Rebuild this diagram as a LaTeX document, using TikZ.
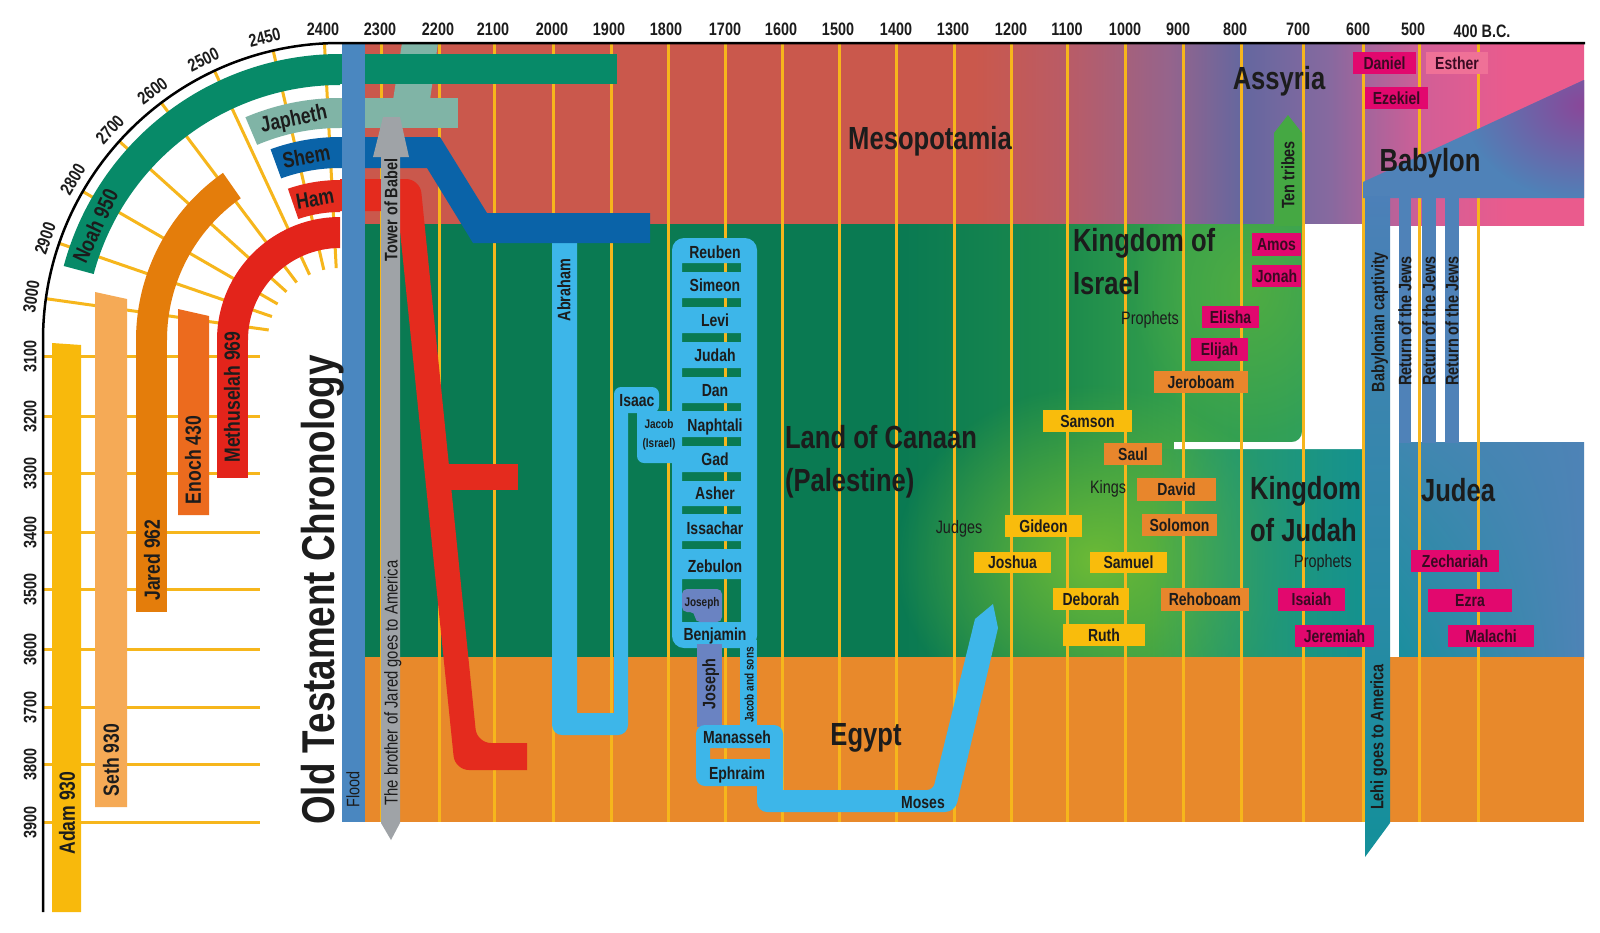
\documentclass[tikz,border=0pt]{standalone}
\usepackage{fontspec}
\setmainfont{Liberation Sans}[FakeStretch=0.8]
\usetikzlibrary{fadings,shadings}
\definecolor{meso1}{HTML}{CA584C}
\definecolor{meso2}{HTML}{B85C68}
\definecolor{meso3}{HTML}{95648C}
\definecolor{assy}{HTML}{64679F}
\definecolor{meso4}{HTML}{86699F}
\definecolor{pink1}{HTML}{D35E96}
\definecolor{pink2}{HTML}{EA5B8D}
\definecolor{gdark}{HTML}{0A7A52}
\definecolor{gmid}{HTML}{1B8A4C}
\definecolor{glight}{HTML}{35A04C}
\definecolor{glight2}{HTML}{2FA060}
\definecolor{lime}{HTML}{6CBA36}
\definecolor{lime2}{HTML}{4FAC42}
\definecolor{tealj}{HTML}{15928F}
\definecolor{egypt}{HTML}{E8892B}
\definecolor{flood}{HTML}{4A87C0}
\definecolor{noah}{HTML}{078A68}
\definecolor{japh}{HTML}{80B4A6}
\definecolor{shem}{HTML}{0A63A8}
\definecolor{ham}{HTML}{E42B1E}
\definecolor{meth}{HTML}{E3241B}
\definecolor{enoch}{HTML}{EC6B1E}
\definecolor{jared}{HTML}{E47D0B}
\definecolor{seth}{HTML}{F5AA56}
\definecolor{adam}{HTML}{F8B90C}
\definecolor{yl}{HTML}{F6B61C}
\definecolor{lblue}{HTML}{3DB6E9}
\definecolor{joseph}{HTML}{6A83C2}
\definecolor{grayar}{HTML}{9FA3A7}
\definecolor{babblue}{HTML}{4F82B8}
\definecolor{purp}{HTML}{8A4799}
\definecolor{judea1}{HTML}{4E83B6}
\definecolor{judeaA}{HTML}{3F87B0}
\definecolor{judeaT}{HTML}{1A8F9E}
\definecolor{lehi1}{HTML}{4C80B8}
\definecolor{lehi2}{HTML}{13909A}
\definecolor{tentr}{HTML}{45A843}
\definecolor{ybox}{HTML}{F9BC0C}
\definecolor{obox}{HTML}{E8862C}
\definecolor{mbox}{HTML}{E2086E}
\definecolor{ebox}{HTML}{EF7197}
\definecolor{txt}{HTML}{1C1C1C}
\definecolor{mtxt}{HTML}{3A0A22}
\pgfdeclarehorizontalshading{topband}{100bp}{color(0bp)=(meso1); color(25bp)=(meso1); color(50bp)=(meso1); color(54bp)=(meso2); color(58bp)=(meso3); color(61bp)=(assy); color(64.5bp)=(meso4); color(68.5bp)=(pink1); color(72bp)=(pink2); color(100bp)=(pink2)}
\pgfdeclarehorizontalshading{greenband}{100bp}{color(0bp)=(gdark); color(25bp)=(gdark); color(52bp)=(gdark); color(60bp)=(gmid); color(66bp)=(glight); color(75bp)=(glight2); color(100bp)=(glight2)}
\tikzfading[name=radfade, inner color=transparent!0, outer color=transparent!100]
\tikzfading[name=fadeleft, left color=transparent!100, right color=transparent!0]
\newcommand{\annsec}[5]{%
  \fill[#1, shift={(340,340)}] (-#2:#5) arc[start angle=-#2, end angle=-#3, radius=#5] -- (-#3:#4) arc[start angle=-#3, end angle=-#2, radius=#4] -- cycle;}
\begin{document}
\begin{tikzpicture}[x=1pt,y=-1pt,
 base/.style={inner sep=0pt, outer sep=0pt, text=txt},
 ax/.style={base, font=\fontsize{18}{21}\selectfont\bfseries, text height=12.9pt, text depth=0pt},
 big/.style={base, font=\fontsize{32}{36}\selectfont\bfseries, text height=22.9pt, text depth=0pt},
 nm/.style={base, font=\fontsize{17.5}{20}\selectfont\bfseries, text height=12.5pt, text depth=0pt},
 sm/.style={base, font=\fontsize{12.5}{15}\selectfont\bfseries, text height=9pt, text depth=0pt},
 rg/.style={base, font=\fontsize{18}{21}\selectfont, text height=12.9pt, text depth=0pt},
 arcl/.style={base, font=\fontsize{22}{26}\selectfont\bfseries, text height=15.8pt, text depth=0pt},
 ttl/.style={base, font=\fontsize{46}{50}\selectfont\bfseries, text height=33pt, text depth=0pt},
 vt/.style={base, font=\fontsize{18}{21}\selectfont\bfseries, text height=12.9pt, text depth=0pt},
 vr/.style={base, font=\fontsize{18.5}{21}\selectfont, text height=13.2pt, text depth=0pt},
 yb/.style={nm, fill=ybox},
 ob/.style={nm, fill=obox},
 mb/.style={nm, fill=mbox, text=mtxt},
 yline/.style={draw=yl, line width=3pt}]
\useasboundingbox (0,0) rectangle (1600,932);
\fill[white] (0,0) rectangle (1600,932);
% ---------- background bands
\shade[shading=topband] (365,43) rectangle (1584,225);
\shade[shading=greenband] (365,224) rectangle (1362,658);
\begin{scope}
 \clip (365,224) rectangle (1362,658);
 \fill[lime, path fading=radfade] (1095,560) ellipse [x radius=200, y radius=175];
 \fill[lime2, path fading=radfade] (1250,290) ellipse [x radius=120, y radius=150];
 \fill[tealj, path fading=fadeleft] (1150,449) rectangle (1362,658);
\end{scope}
\fill[white] (1363,224) -- (1302,224) [rounded corners=10pt] -- (1302,442) [sharp corners] -- (1174,442) -- (1174,449) -- (1363,449) -- cycle;
\shade[upper left=judeaA, upper right=judea1, lower left=judeaT, lower right=judea1] (1399,442) rectangle (1584,658);
\fill[egypt] (365,657) rectangle (1584,822);
% ---------- year lines
\foreach \x in {381,439,494,553,611,668,725,782,839,896,954,1011,1067,1125,1183,1241,1303,1363,1419,1478}
  \draw[yline] (\x,43) -- (\x,822);
\foreach \a in {93,103,115,127,138,150,161,172}
  \draw[yline, shift={(340,340)}] (-\a:72) -- (-\a:297);
\foreach \y in {356,416,473,532,589,649,707,764,822}
  \draw[yline] (43,\y) -- (260,\y);
% ---------- left bars
\fill[adam] (52,343) -- (81,345) -- (81,912) -- (52,912) -- cycle;
\fill[seth] (95,292) -- (127,299) -- (127,807) -- (95,807) -- cycle;
\fill[enoch] (178,309) -- (209,316) -- (209,515) -- (178,515) -- cycle;
\annsec{jared}{125}{180}{173}{204}
\fill[jared] (136,339) rectangle (167,612);
\annsec{meth}{90}{180}{92}{123}
\fill[meth] (217,339) rectangle (248,478);
\annsec{noah}{90}{165}{255}{286}
\annsec{japh}{90}{113}{212}{242}
\annsec{shem}{90}{110}{172}{203}
\annsec{ham}{90}{109}{128}{160}
% ---------- Abraham and family
\fill[lblue] (552,236) -- (577,236) -- (577,713) -- (614,713) -- (614,400) -- (628,400) [rounded corners=10pt] -- (628,735) -- (552,735) [sharp corners] -- cycle;
\fill[lblue, rounded corners=7pt] (614,387) rectangle (659,413);
\fill[lblue, rounded corners=7pt] (637,411) rectangle (680,463);
\fill[lblue] (637,411) rectangle (650,420);
\fill[lblue] (783,770) -- (757,770) [rounded corners=10pt] -- (757,812) -- (955,812) [sharp corners] -- (998,628) -- (993,604) -- (975,619) [rounded corners=6pt] -- (933,790) [sharp corners] -- (783,790) -- cycle;
\fill[lblue, even odd rule] [rounded corners=12pt] (672,238) rectangle (757,648) [sharp corners]
  (682,263) rectangle (741,272) (682,298) rectangle (741,307) (682,333) rectangle (741,342)
  (682,368) rectangle (741,377) (682,403) rectangle (741,411) (682,437) rectangle (741,446)
  (682,472) rectangle (741,481) (682,506) rectangle (741,514) (682,541) rectangle (741,549)
  (682,579) rectangle (741,622);
\fill[joseph, rounded corners=5pt] (682,589) -- (722,589) -- (722,622) -- (695,622) -- (695,612) -- (682,612) -- cycle;
\fill[joseph] (697,644) rectangle (722,727);
\fill[lblue] (740,640) rectangle (757,727);
\fill[lblue, even odd rule] [rounded corners=9pt] (696,725) rectangle (783,786) [sharp corners] (710,748) rectangle (770,759);
% ---------- Noah's sons to the right
\fill[japh] (393,100) -- (430,100) -- (438,43) -- (402,43) -- cycle;
\fill[noah] (340,54) rectangle (617,84);
\fill[japh] (340,98) rectangle (458,128);
\fill[shem] (340,137) -- (440,137) -- (487,213) -- (650,213) -- (650,243) -- (473,243) -- (427,168) -- (340,168) -- cycle;
\fill[ham] (340,179) [rounded corners=14pt] -- (420,179) -- (477,743) [sharp corners] -- (527,743) -- (527,770) [rounded corners=14pt] -- (455,770) [sharp corners] -- (398,211) -- (340,211) -- cycle;
\fill[ham] (440,464) rectangle (518,490);
% ---------- Babylon, columns, ten tribes
\fill[babblue] (1363,182) -- (1584,80) -- (1584,198) -- (1363,198) -- cycle;
\begin{scope}
 \clip (1363,182) -- (1584,80) -- (1584,198) -- (1363,198) -- cycle;
 \fill[purp, path fading=radfade] (1584,105) ellipse [x radius=120, y radius=95];
\end{scope}
\shade[top color=lehi1, bottom color=lehi2] (1365,196) -- (1390,196) -- (1390,823) -- (1365,857) -- cycle;
\fill[babblue] (1399,196) rectangle (1411,443);
\fill[babblue] (1422,196) rectangle (1436,443);
\fill[babblue] (1445,196) rectangle (1459,443);
\fill[tentr] (1274,226) -- (1274,133) -- (1288,115) -- (1302,133) -- (1302,226) -- cycle;
% ---------- Tower of Babel arrow, Flood column
\fill[grayar] (381,157) -- (373,157) -- (383,117) -- (400,117) -- (409,157) -- (400,157) -- (400,823) -- (391,840) -- (381,823) -- cycle;
\fill[flood] (342,43) rectangle (365,822);
% ---------- axes
\draw[line width=2.5pt] (1585,43) -- (340,43) arc[start angle=-90, end angle=-180, radius=297] -- (43,912);
\foreach \x/\t in {323/2400,380/2300,438/2200,493/2100,552/2000,609/1900,666/1800,725/1700,781/1600,838/1500,896/1400,953/1300,1011/1200,1067/1100,1125/1000,1178/900,1235/800,1298/700,1358/600,1413/500}
  \node[ax] (t\t) at (\x,29) {\t};
\node[ax] (t400) at (1482,31) {400 B.C.};
\foreach \a/\t in {104/2450,116/2500,127/2600,137.6/2700,149/2800,161/2900,172/3000}
  \path[shift={(340,340)}] (-\a:312) node[ax, rotate=\a-90] (a\t) {\t};
\foreach \y/\t in {356/3100,416/3200,473/3300,532/3400,589/3500,649/3600,707/3700,764/3800,822/3900}
  \node[ax, rotate=90] (v\t) at (30,\y) {\t};
% ---------- left labels
\node[arcl, rotate=90] (adamL) at (67,813) {Adam 930};
\node[arcl, rotate=90] (sethL) at (111,760) {Seth 930};
\node[arcl, rotate=90] (jaredL) at (152,560) {Jared 962};
\node[arcl, rotate=90] (enochL) at (193,460) {Enoch 430};
\node[arcl, rotate=90] (methL) at (232,397) {Methuselah 969};
\path[shift={(340,340)}] (-155:270) node[arcl, rotate=65] (noahL) {Noah 950};
\path[shift={(340,340)}] (-101.8:227) node[arcl, rotate=11.8] (japhL) {Japheth};
\path[shift={(340,340)}] (-100.4:187) node[arcl, rotate=10.4] (shemL) {Shem};
\path[shift={(340,340)}] (-100:144) node[arcl, rotate=10] (hamL) {Ham};
\node[ttl, rotate=90] (title) at (318,590) {Old Testament Chronology};
\node[rg, rotate=90] (floodL) at (353,789) {Flood};
\node[vt, rotate=90] (babel) at (391,210) {Tower of Babel};
\node[vr, rotate=90] (jaredAm) at (391,683) {The brother of Jared goes to America};
\node[vt, rotate=90] (abraham) at (564,290) {Abraham};
% ---------- regions
\node[big] (meso) at (930,138) {Mesopotamia};
\node[big] (assyria) at (1279,78) {Assyria};
\node[big] (babylon) at (1430,160) {Babylon};
\node[big, anchor=west] (kiA) at (1073,240) {Kingdom of};
\node[big, anchor=west] (kiB) at (1073,283) {Israel};
\node[big, anchor=west] (canA) at (785,437) {Land of Canaan};
\node[big, anchor=west] (canB) at (785,480) {(Palestine)};
\node[big] (egyptL) at (866,734) {Egypt};
\node[big, anchor=west] (kjA) at (1250,488) {Kingdom};
\node[big, anchor=west] (kjB) at (1250,530) {of Judah};
\node[big] (judea) at (1458,490) {Judea};
\node[rg] (prophI) at (1150,318) {Prophets};
\node[rg] (prophJ) at (1323,561) {Prophets};
\node[rg] (kings) at (1108,487) {Kings};
\node[rg] (judges) at (959,527) {Judges};
% ---------- sons
\foreach \y/\t in {252/Reuben,285/Simeon,320/Levi,355/Judah,390/Dan,425/Naphtali,459/Gad,493/Asher,528/Issachar,566/Zebulon,634/Benjamin}
  \node[nm] (s\t) at (715,\y) {\t};
\node[sm] (josS) at (702,602) {Joseph};
\node[nm] (isaac) at (637,400) {Isaac};
\node[sm] (jacob) at (659,424) {Jacob};
\node[sm] (israel) at (659,443) {(Israel)};
\node[vt, rotate=90] (josB) at (709,684) {Joseph};
\node[sm, rotate=90] (jsons) at (749,685) {Jacob and sons};
\node[nm] (manasseh) at (737,737) {Manasseh};
\node[nm] (ephraim) at (737,773) {Ephraim};
\node[nm] (moses) at (923,802) {Moses};
% ---------- columns text
\node[vt, rotate=90] (tent) at (1288,175) {Ten tribes};
\node[vt, rotate=90] (bcap) at (1378,322) {Babylonian captivity};
\node[vt, rotate=90] (ret1) at (1405,321) {Return of the Jews};
\node[vt, rotate=90] (ret2) at (1429,321) {Return of the Jews};
\node[vt, rotate=90] (ret3) at (1452,321) {Return of the Jews};
\node[vt, rotate=90] (lehi) at (1377,737) {Lehi goes to America};
% ---------- name boxes
\node[yb, minimum width=89pt, minimum height=22pt] (samson) at (1087.5,421) {Samson};
\node[yb, minimum width=77pt, minimum height=22pt] (gideon) at (1043.5,526) {Gideon};
\node[yb, minimum width=77pt, minimum height=21pt] (joshua) at (1012.5,562.5) {Joshua};
\node[yb, minimum width=77pt, minimum height=21pt] (samuel) at (1128.5,562.5) {Samuel};
\node[yb, minimum width=76pt, minimum height=22pt] (deborah) at (1091,599) {Deborah};
\node[yb, minimum width=82pt, minimum height=22pt] (ruth) at (1104,635) {Ruth};
\node[ob, minimum width=58pt, minimum height=22pt] (saul) at (1133,454) {Saul};
\node[ob, minimum width=79pt, minimum height=23pt] (david) at (1176.5,489.5) {David};
\node[ob, minimum width=75pt, minimum height=22pt] (solomon) at (1179.5,525) {Solomon};
\node[ob, minimum width=88pt, minimum height=23pt] (rehoboam) at (1205,599.5) {Rehoboam};
\node[ob, minimum width=94pt, minimum height=22pt] (jeroboam) at (1201,382) {Jeroboam};
\node[mb, minimum width=57pt, minimum height=22pt] (elisha) at (1230.5,317) {Elisha};
\node[mb, minimum width=57pt, minimum height=23pt] (elijah) at (1219.5,349.5) {Elijah};
\node[mb, minimum width=49pt, minimum height=23pt] (amos) at (1276.5,244.5) {Amos};
\node[mb, minimum width=49pt, minimum height=22pt] (jonah) at (1276.5,276) {Jonah};
\node[mb, minimum width=67pt, minimum height=23pt] (isaiah) at (1311.5,599.5) {Isaiah};
\node[mb, minimum width=79pt, minimum height=22pt] (jeremiah) at (1334.5,636) {Jeremiah};
\node[mb, minimum width=88pt, minimum height=22pt] (zechariah) at (1455,561) {Zechariah};
\node[mb, minimum width=84pt, minimum height=23pt] (ezra) at (1470,600.5) {Ezra};
\node[mb, minimum width=86pt, minimum height=22pt] (malachi) at (1491,636) {Malachi};
\node[mb, minimum width=63pt, minimum height=22pt] (daniel) at (1384.5,63) {Daniel};
\node[mb, minimum width=63pt, minimum height=22pt] (ezekiel) at (1396.5,98) {Ezekiel};
\node[nm, fill=ebox, text=mtxt, minimum width=62pt, minimum height=22pt] (esther) at (1457,63) {Esther};
\end{tikzpicture}
\end{document}
